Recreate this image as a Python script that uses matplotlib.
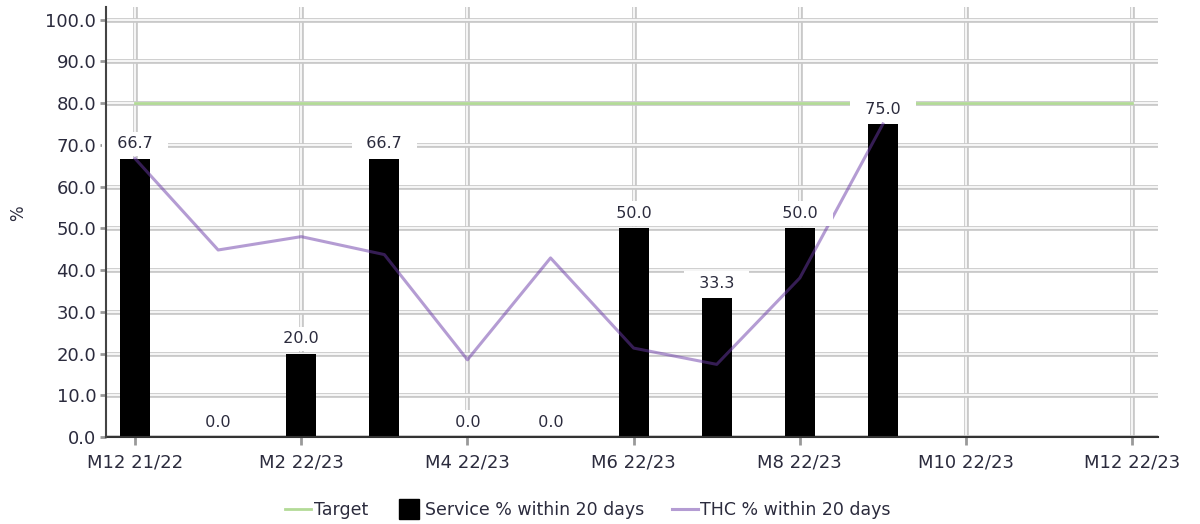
import matplotlib.pyplot as plt
import matplotlib.patheffects as pe
from matplotlib.lines import Line2D
import numpy as np

#  Data 
months = ["M12 21/22", "M1 22/23", "M2 22/23", "M3 22/23", "M4 22/23", "M5 22/23",
          "M6 22/23", "M7 22/23", "M8 22/23", "M9 22/23", "M10 22/23", "M11 22/23",
          "M12 22/23"]
target  = [80.0] * 13
service = [66.7, 0.0, 20.0, 66.7, 0.0, 0.0, 50.0, 33.3, 50.0, 75.0, None, None, None]
thc     = [66.7, 44.8, 48.0, 43.7, 18.5, 42.9, 21.3, 17.4, 38.1, 75.0, None, None, None]

TXT = "#2b2b3d"
x = np.arange(len(months))

fig = plt.figure(figsize=(12, 5.24), dpi=100)
ax = fig.add_axes([0.0883, 0.166, 0.8767, 0.8206])

# grid: double-line look
grid_fx = [pe.Stroke(linewidth=3.4, foreground="#c9c9c9"), pe.Normal()]
ax.set_axisbelow(True)
ax.grid(True, color="white", lw=1.2, path_effects=grid_fx)

# target
h_target, = ax.plot(x, target, color="#b3db97", lw=2, zorder=3, label="Target")

# service bars
sv = np.array([np.nan if v is None else v for v in service], dtype=float)
ax.bar(x, np.nan_to_num(sv), width=0.36, color="black", zorder=2,
       label="Service % within 20 days")
h_service = Line2D([], [], marker="s", ms=15, color="black", ls="none")

# THC line (semi-transparent so it darkens over bars)
th = np.array([np.nan if v is None else v for v in thc], dtype=float)
h_thc, = ax.plot(x, th, color="#6b3aa8", alpha=0.5, lw=2.2, zorder=4,
                 label="THC % within 20 days")

# value labels with white boxes
for xi, v in zip(x, service):
    if v is None:
        continue
    ax.annotate(f"  {v:.1f}  ", (xi, v), xytext=(0, 10.5), textcoords="offset points",
                ha="center", va="center", fontsize=11.5, color=TXT, zorder=6,
                bbox=dict(boxstyle="square,pad=0.3", fc="white", ec="none"),
                annotation_clip=False)

# axes
ax.set_xlim(-0.35, 12.31)
ax.set_ylim(0, 103)
ax.set_xticks(range(0, 13, 2))
ax.set_xticklabels(months[::2])
ax.set_yticks(np.arange(0, 101, 10))
ax.set_yticklabels([f"{v:.1f}" for v in np.arange(0, 101, 10)])
ax.tick_params(axis="y", length=4, width=2, color="#999999", labelsize=13,
               labelcolor=TXT, pad=3)
ax.tick_params(axis="x", length=6, width=2, color="#999999", labelsize=13,
               labelcolor=TXT, pad=6)
for s in ["top", "right"]:
    ax.spines[s].set_visible(False)
ax.spines["left"].set_color("#444444")
ax.spines["left"].set_linewidth(1.5)
ax.spines["left"].set_zorder(7)
ax.spines["bottom"].set_color("#333333")
ax.spines["bottom"].set_linewidth(1.5)
ax.set_ylabel("%", fontsize=12, color=TXT)
ax.yaxis.set_label_coords(-0.075, 0.52)

fig.legend([h_target, h_service, h_thc],
           ["Target", "Service % within 20 days", "THC % within 20 days"],
           loc="center", bbox_to_anchor=(0.49, 0.027), ncol=3, frameon=False,
           fontsize=12.5, handlelength=1.5, handletextpad=0.15,
           columnspacing=1.6, labelcolor=TXT)

fig.savefig("out.png", dpi=100)
